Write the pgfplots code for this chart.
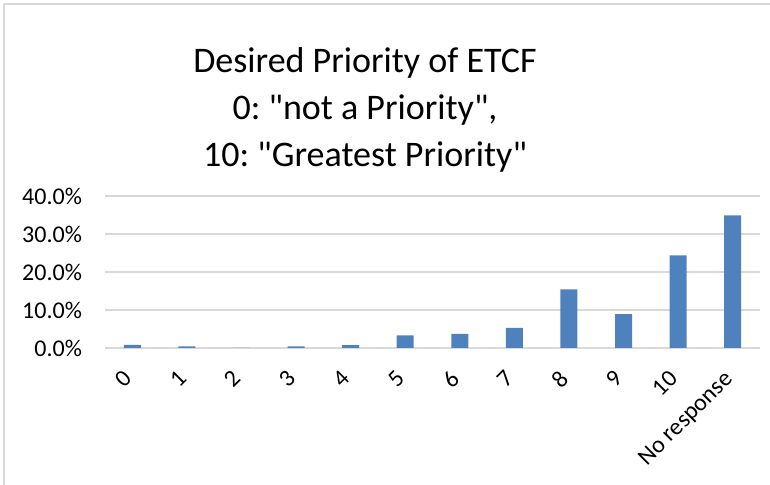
\documentclass[border=0pt]{standalone}
\usepackage{pgfplots}
\pgfplotsset{compat=1.18}
\usepackage{fontspec}
\setmainfont{Carlito}
\definecolor{barblue}{RGB}{79,129,189}
\definecolor{gridgray}{RGB}{217,217,217}
\begin{document}
\frenchspacing
\begin{tikzpicture}
% page: 770x485 px at 0.5pt per px
\path[use as bounding box] (0,0) rectangle (385pt,242.5pt);
\draw[gridgray, line width=1pt] (2pt,-5pt) -- (2pt,240.5pt) -- (390pt,240.5pt);
\node[font=\fontsize{18}{23.5}\selectfont, align=center] at (182.5pt,187.5pt)
  {Desired Priority of ETCF\\0: \textquotedbl not a Priority\textquotedbl,\\10: \textquotedbl Greatest Priority\textquotedbl};
\begin{axis}[
  at={(52.5pt,68.5pt)}, anchor=south west,
  scale only axis,
  width=327.5pt, height=76pt,
  ybar, bar width=8.5pt,
  xmin=-0.5, xmax=11.5,
  ymin=0, ymax=40,
  xtick={0,...,11},
  xticklabels={0,1,2,3,4,5,6,7,8,9,10,No response},
  x tick label style={xshift=-5pt, yshift=-7.5pt, rotate=45, anchor=north east, inner sep=2pt, font=\fontsize{12}{14}\selectfont},
  ytick={0,10,20,30,40},
  yticklabels={0.0\%,10.0\%,20.0\%,30.0\%,40.0\%},
  y tick label style={xshift=-8pt, font=\fontsize{12}{14}\selectfont},
  ymajorgrids, grid style={gridgray, line width=1pt},
  axis line style={draw=none},
  major tick length=0pt,
  clip=false,
]
\addplot[fill=barblue, draw=none] coordinates {
  (0,0.8) (1,0.45) (2,0) (3,0.45) (4,0.75) (5,3.3) (6,3.7) (7,5.3)
  (8,15.4) (9,8.9) (10,24.4) (11,34.9)
};
\end{axis}
\end{tikzpicture}
\end{document}
